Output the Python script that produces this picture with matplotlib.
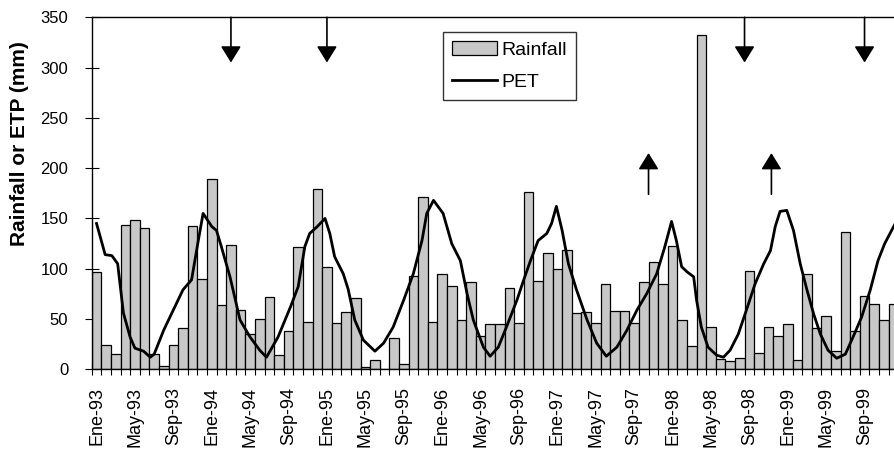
import numpy as np
import matplotlib
matplotlib.use("Agg")
import matplotlib.pyplot as plt

plt.rcParams['font.family'] = ['Liberation Sans', 'DejaVu Sans']

# monthly rainfall, Jan 1993 .. Dec 1999 (mm)
rainfall = [97, 24, 15, 143, 148, 140, 15, 3, 24, 41, 142, 90,
            189, 64, 124, 59, 35, 50, 72, 14, 38, 122, 47, 179,
            102, 46, 57, 71, 2, 9, 0, 31, 5, 93, 171, 47,
            95, 83, 49, 87, 33, 45, 45, 81, 46, 176, 88, 116,
            100, 119, 56, 57, 46, 85, 58, 58, 46, 87, 107, 85,
            123, 49, 23, 332, 42, 10, 8, 11, 98, 16, 42, 33,
            45, 9, 95, 41, 53, 18, 137, 38, 73, 65, 49, 65]

# PET curve: month index (0 = Ene-93) and value (mm)
pet_month = [0, 0.9, 1.6, 2.2, 2.8, 3.5, 4.0, 4.9, 5.6, 6.0, 7.0, 8.0, 9.0,
             9.9, 10.6, 11.1, 12.0, 12.5, 13.0, 13.9, 14.95, 16.0, 17.0,
             17.7, 18.9, 20.2, 21.0, 21.7, 22.2, 23.0, 23.8, 24.3, 24.8,
             25.7, 26.2, 26.9, 27.8, 29.0, 29.9, 30.9, 32.0, 33.0, 33.9,
             34.4, 35.1, 36.1, 37.0, 37.9, 38.6, 39.25, 40.3, 41.0, 41.85,
             42.7, 43.8, 44.5, 45.2, 46.0, 46.9, 47.4, 47.9, 48.5, 49.15,
             50.0, 51.1, 52.1, 53.1, 54.2, 55.2, 56.3, 57.3, 58.35, 59.2,
             59.9, 60.4, 60.95, 61.5, 62.2, 62.5, 63.0, 63.7, 64.6, 65.3,
             66.0, 66.85, 67.7, 68.6, 69.5, 70.2, 70.7, 71.2, 71.9, 72.6,
             73.3, 74.0, 74.7, 75.4, 76.2, 77.1, 78.0, 78.8, 79.7, 80.6,
             81.4, 82.1, 83.2]
pet_mm = [145, 114, 113, 105, 56, 32, 21, 18, 12, 15, 39, 59, 79,
          89, 128, 155, 142, 138, 122, 92, 49, 32, 19,
          12, 32, 62, 82, 122, 135, 142, 150, 135, 112,
          95, 80, 49, 29, 18, 26, 42, 69, 95, 128,
          155, 168, 155, 125, 108, 75, 49, 22, 13, 22,
          42, 69, 89, 108, 128, 135, 145, 162, 138, 105,
          79, 49, 26, 13, 22, 38, 59, 75, 95, 122,
          147, 128, 102, 97, 92, 69, 42, 22, 14, 12,
          19, 35, 59, 85, 105, 118, 142, 157, 158, 138,
          105, 79, 55, 35, 19, 11, 15, 32, 52, 79,
          108, 125, 145]

tick_labels = ['Ene-93', 'May-93', 'Sep-93', 'Ene-94', 'May-94', 'Sep-94',
               'Ene-95', 'May-95', 'Sep-95', 'Ene-96', 'May-96', 'Sep-96',
               'Ene-97', 'May-97', 'Sep-97', 'Ene-98', 'May-98', 'Sep-98',
               'Ene-99', 'May-99', 'Sep-99']

# arrow marks (month index)
down_arrows = [14, 24, 67.5, 80]
up_arrows = [57.5, 70.3]

fig = plt.figure(figsize=(8.95, 4.49), dpi=100)
ax = fig.add_axes([0.1025, 0.1775, 0.901, 0.784])

months = np.arange(len(rainfall))
bars = ax.bar(months, rainfall, width=1.0, color='#c8c8c8', edgecolor='black',
              linewidth=0.9, label='Rainfall', zorder=2)
line, = ax.plot(pet_month, pet_mm, color='black', linewidth=2.0,
                solid_joinstyle='round', label='PET', zorder=3)

for m in down_arrows:
    ax.annotate('', xy=(m, 305), xytext=(m, 350),
                arrowprops=dict(arrowstyle='-|>,head_length=1.0,head_width=0.62',
                                mutation_scale=10, lw=1.2, color='black',
                                shrinkA=0, shrinkB=0), zorder=4)
for m in up_arrows:
    ax.annotate('', xy=(m, 215), xytext=(m, 174),
                arrowprops=dict(arrowstyle='-|>,head_length=1.0,head_width=0.62',
                                mutation_scale=10, lw=1.2, color='black',
                                shrinkA=0, shrinkB=0), zorder=4)

ax.set_xlim(-0.5, len(rainfall) - 0.5)
ax.set_ylim(0, 350)
ax.set_yticks(np.arange(0, 351, 50))
ax.set_xticks(np.arange(0, len(rainfall), 4))
ax.set_xticklabels(tick_labels, rotation=90, fontsize=13)
ax.set_xticks(np.arange(-0.5, len(rainfall), 1), minor=True)
ax.tick_params(axis='x', which='major', length=0, pad=13)
ax.tick_params(axis='x', which='minor', direction='inout', length=9, width=0.8)
ax.tick_params(axis='y', direction='inout', length=10, width=0.8, labelsize=12, pad=12)

for s in ['left', 'top', 'bottom']:
    ax.spines[s].set_linewidth(1.0)
ax.spines['right'].set_visible(False)

ax.set_ylabel('Rainfall or ETP (mm)', fontsize=15, fontweight='bold', va='center')
ax.yaxis.set_label_coords(-0.089, 0.641)

leg = ax.legend([bars, line], ['Rainfall', 'PET'], loc='upper left',
                bbox_to_anchor=(0.4953, 0.928),
                bbox_transform=fig.transFigure, borderaxespad=0,
                fontsize=14, frameon=True, fancybox=False, shadow=False,
                handlelength=2.3, handletextpad=0.25, labelspacing=0.75,
                borderpad=0.45)
leg.get_frame().set_edgecolor('black')
leg.get_frame().set_linewidth(1.0)

fig.savefig('out.png', dpi=100)
